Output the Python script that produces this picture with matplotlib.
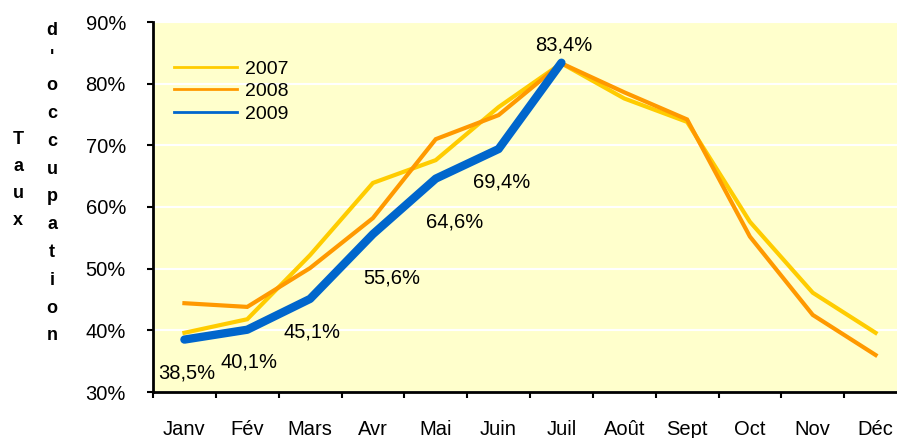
import numpy as np
import matplotlib.pyplot as plt
from matplotlib.lines import Line2D

# Monthly occupancy rates (%)
months = ["Janv", "Fév", "Mars", "Avr", "Mai", "Juin", "Juil", "Août", "Sept", "Oct", "Nov", "Déc"]
rate_2007 = [39.6, 41.8, 52.2, 63.9, 67.6, 76.2, 83.3, 77.6, 73.8, 57.6, 46.1, 39.6]
rate_2008 = [44.4, 43.8, 50.1, 58.2, 71.0, 74.9, 83.3, 78.6, 74.2, 55.2, 42.5, 36.0]
rate_2009 = [38.5, 40.1, 45.1, 55.6, 64.6, 69.4, 83.4]
label_offsets = [(1.5, -24), (1.5, -23), (1.5, -23.5), (13.5, -31.5), (13.5, -31), (2, -24), (1.5, 13)]

plt.rcParams['font.family'] = ['Liberation Sans', 'DejaVu Sans']

fig = plt.figure(figsize=(8.97, 4.38), dpi=100)
ax = fig.add_axes([153 / 897, 1 - 392 / 438, (907 - 153) / 897, (392 - 22) / 438])
ax.set_facecolor("#FFFFCC")

x = np.arange(len(months))
ax.plot(x, rate_2007, color="#FFCC00", lw=3, solid_joinstyle="miter")
ax.plot(x, rate_2008, color="#FF9900", lw=3, solid_joinstyle="miter")
ax.plot(x[:len(rate_2009)], rate_2009, color="#0066CC", lw=6, solid_capstyle="round")

for xi, v, (dx, dy) in zip(x, rate_2009, label_offsets):
    ax.annotate(f"{v:.1f}%".replace(".", ","), (xi, v), xytext=(dx, dy),
                textcoords="offset points", ha="center", va="center", fontsize=14.5)

ax.set_xlim(-0.5, 11.5)
ax.set_ylim(30, 90)
ax.set_yticks(range(30, 91, 10))
ax.set_yticklabels([f"{v}%" for v in range(30, 91, 10)], fontsize=14.5)
ax.set_xticks(x)
ax.set_xticklabels(months, fontsize=14.5)
ax.set_xticks(np.arange(-0.5, 11.6, 1), minor=True)
ax.tick_params(axis="x", which="major", length=0, pad=20)
ax.tick_params(axis="x", which="minor", length=4, width=1.5, direction="out")
ax.tick_params(axis="y", length=4.5, width=1.5, direction="out", pad=15)
ax.yaxis.grid(True, color="white", lw=1.5)
ax.set_axisbelow(True)

for s in ["top", "right"]:
    ax.spines[s].set_visible(False)
for s in ["left", "bottom"]:
    ax.spines[s].set_linewidth(2)

handles = [Line2D([], [], color="#FFCC00", lw=2),
           Line2D([], [], color="#FF9900", lw=2),
           Line2D([], [], color="#0066CC", lw=2)]
ax.legend(handles, ["2007", "2008", "2009"], loc="upper left", bbox_to_anchor=(0.005, 0.944),
          frameon=False, fontsize=14, handlelength=3.25, labelspacing=0.25, handletextpad=0.4)

fig.text(18 / 897, 1 - 180 / 438, "T\na\nu\nx", ha="center", va="center",
         fontsize=13, fontweight="bold", linespacing=1.79)
fig.text(52 / 897, 1 - 183 / 438, "d\n'\no\nc\nc\nu\np\na\nt\ni\no\nn", ha="center", va="center",
         fontsize=13, fontweight="bold", linespacing=1.83)

fig.savefig("out.png", dpi=100)
